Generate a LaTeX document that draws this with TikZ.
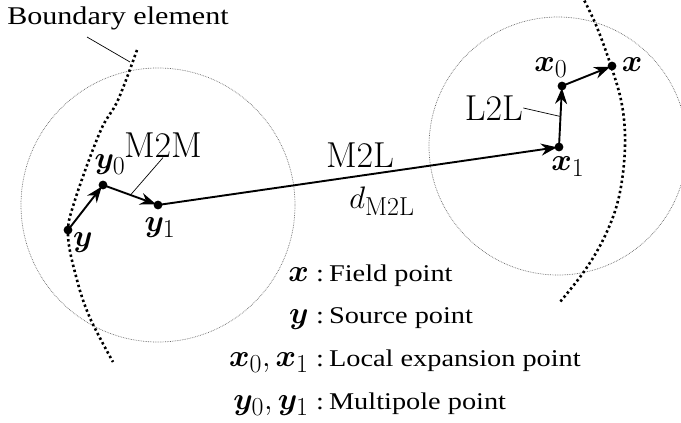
\documentclass[tikz,border=0pt]{standalone}
\usepackage{bm}
\usepackage[no-math]{fontspec}
\setmainfont[FakeStretch=1.18]{Liberation Serif}
\usetikzlibrary{arrows.meta,calc}

\begin{document}
\begin{tikzpicture}[x=1pt,y=-1pt,
  vec/.style={line width=1.9pt,-{Stealth[length=16pt,width=12pt]},shorten >=2pt},
  cell/.style={black!60,line width=0.7pt,densely dotted},
  bline/.style={line width=2.6pt,dash pattern=on 2.4pt off 2.8pt},
  lead/.style={line width=0.7pt},
  lbl/.style={inner sep=0pt,font=\fontsize{24.88}{30}\selectfont,scale=1.25,transform shape},
  op/.style={inner sep=0pt,font=\fontsize{24.88}{30}\selectfont,scale=1.45,transform shape},
  txt/.style={inner sep=0pt,font=\fontsize{24}{29}\selectfont}]
\useasboundingbox (0,0) rectangle (681,423);
\clip (0,0) rectangle (681,423);
% cells
\draw[cell] (158,205) circle[radius=137pt];
\draw[cell] (558,146) circle[radius=129pt];
% boundary elements
\draw[bline] plot[smooth,tension=0.6] coordinates {(137,50) (118,100) (100,132) (75,200) (68,235) (77,280) (90,318) (113,362)};
\draw[bline] plot[smooth,tension=0.6] coordinates {(582,-4) (596,25) (610,63) (621,100) (625,135) (623,173) (616,208) (602,242) (583,273) (560,302)};
% points
\coordinate (y) at (68,230);
\coordinate (y0) at (103,185);
\coordinate (y1) at (158,205);
\coordinate (x1) at (559,147);
\coordinate (x0) at (562,86);
\coordinate (x) at (612,66);
\draw[vec] (y) -- (y0);
\draw[vec] (y0) -- (y1);
\draw[vec] (y1) -- (x1);
\draw[vec] (x1) -- (x0);
\draw[vec] (x0) -- (x);
\foreach \p in {y,y0,y1,x1,x0,x}
  \fill (\p) circle[radius=4.4pt];
% labels
\node[lbl] (ylab) at (83,243) {$\bm{y}$};
\node[lbl] (y0lab) at (110,165) {$\bm{y}_0$};
\node[lbl] (y1lab) at (160,228) {$\bm{y}_1$};
\node[lbl] (x0lab) at (551,68) {$\bm{x}_0$};
\node[lbl] (xlab) at (632,65) {$\bm{x}$};
\node[lbl] (x1lab) at (568,167) {$\bm{x}_1$};
\node[op] (m2m) at (163,145) {$\mathrm{M2M}$};
\node[op] (m2l) at (360,155) {$\mathrm{M2L}$};
\node[lbl] (dm2l) at (382,201) {$d_{\mathrm{M2L}}$};
\node[op] (l2l) at (494,108) {$\mathrm{L2L}$};
\node[txt,font=\fontsize{25.5}{30}\selectfont] (bnd) at (118,18) {Boundary element};
\coordinate (bndfoot) at (87,37);
\coordinate (bndtip) at (130,62);
\draw[lead] (m2m.south) -- ($(y0)!0.5!(y1)$);
\draw[lead] (l2l.east) -- ($(x1)!0.5!(x0)$);
\draw[lead] (bndfoot) -- (bndtip);
% legend
\node[lbl,anchor=base east] (sym1) at (309,281) {$\bm{x}$};
\node[txt,anchor=base west] (desc1) at (316,281) {:\hspace{5pt}Field point};
\node[lbl,anchor=base east] (sym2) at (309,323) {$\bm{y}$};
\node[txt,anchor=base west] (desc2) at (316,323) {:\hspace{5pt}Source point};
\node[lbl,anchor=base east] (sym3) at (309,366) {$\bm{x}_0,\bm{x}_1$};
\node[txt,anchor=base west] (desc3) at (316,366) {:\hspace{5pt}Local expansion point};
\node[lbl,anchor=base east] (sym4) at (309,409) {$\bm{y}_0,\bm{y}_1$};
\node[txt,anchor=base west] (desc4) at (316,409) {:\hspace{5pt}Multipole point};
\end{tikzpicture}
\end{document}
